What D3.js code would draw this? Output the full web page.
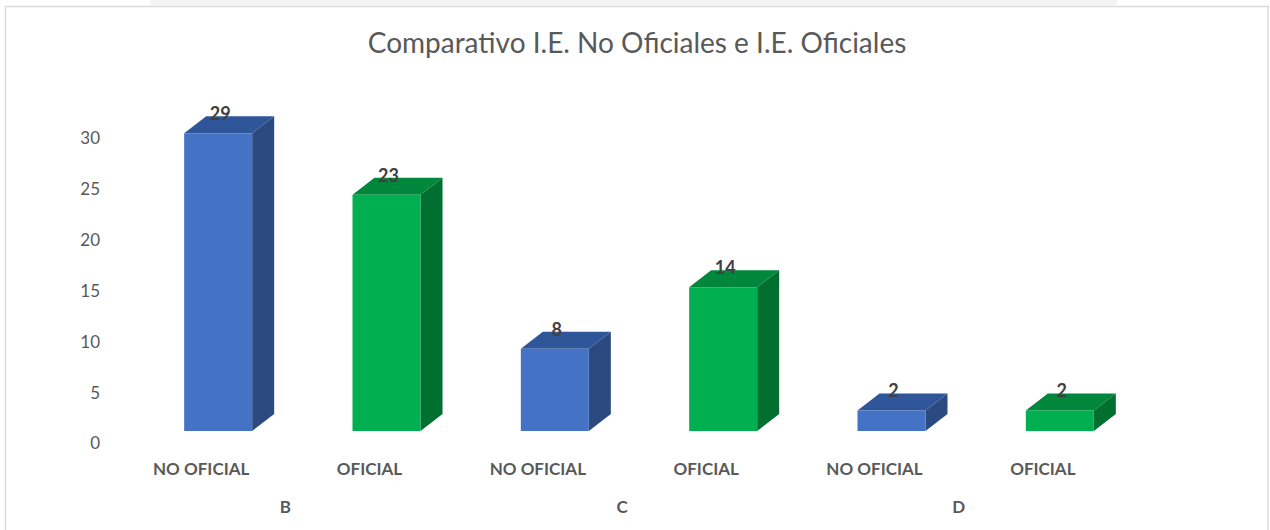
<!DOCTYPE html>
<html><head><meta charset="utf-8">
<script src="https://cdn.jsdelivr.net/npm/d3@7"></script>
<style>body{margin:0;background:#fff;overflow:hidden}svg{display:block}</style>
</head><body>
<svg id="c" width="1270" height="530"></svg>
<script>
const title = "Comparativo I.E. No Oficiales e I.E. Oficiales";
const groups = ["B", "C", "D"];
const types = ["NO OFICIAL", "OFICIAL"];
const valuesNoOficial = [29, 8, 2];
const valuesOficial = [23, 14, 2];
const yTicks = [0, 5, 10, 15, 20, 25, 30];

const rows = [];
groups.forEach((g, i) => {
  rows.push({group: g, type: types[0], value: valuesNoOficial[i], key: g + "|" + types[0]});
  rows.push({group: g, type: types[1], value: valuesOficial[i], key: g + "|" + types[1]});
});

const svg = d3.select("#c");
const font = "Lato, 'Open Sans', sans-serif";

// page strip at top
svg.append("rect").attr("x", 150).attr("y", 0).attr("width", 967).attr("height", 5).attr("fill", "#f3f3f3");
// chart border
svg.append("rect").attr("x", 5.5).attr("y", 6.5).attr("width", 1262.5).attr("height", 540)
  .attr("fill", "#fff").attr("stroke", "#d9d9d9").attr("stroke-width", 1.5);

svg.append("text").attr("id", "title").attr("x", 637).attr("y", 53).attr("text-anchor", "middle")
  .attr("font-family", font).attr("font-size", 28).attr("fill", "#595959").text(title);

const x = d3.scaleBand().domain(rows.map(d => d.key)).range([117, 1127]).paddingInner(0).paddingOuter(0);
const yAxis = d3.scaleLinear().domain([0, 30]).range([443, 138]);
const yBar = d3.scaleLinear().domain([0, 30]).range([431, 123]);

const barW = 68, dx = 22, dy = 17, shift = -17;

// y axis labels
const ax = svg.append("g").attr("transform", "translate(100,0)")
  .call(d3.axisLeft(yAxis).tickValues(yTicks).tickSize(0).tickPadding(0));
ax.select(".domain").remove();
ax.selectAll("text").attr("font-family", font).attr("font-size", 17).attr("fill", "#595959").attr("dy", "0.35em");

const colors = {
  "NO OFICIAL": {front: "#4472C4", top: "#30569a", side: "#2a4a80"},
  "OFICIAL": {front: "#00B050", top: "#00873b", side: "#006f2f"}
};

const bars = svg.append("g").selectAll("g").data(rows).join("g");
bars.each(function(d) {
  const g = d3.select(this);
  const x0 = x(d.key) + x.bandwidth() / 2 + shift;
  const x1 = x0 + barW;
  const y0 = yBar(0), y1 = yBar(d.value);
  const c = colors[d.type];
  g.append("path").attr("d", `M${x1},${y1}L${x1+dx},${y1-dy}L${x1+dx},${y0-dy}L${x1},${y0}Z`).attr("fill", c.side);
  g.append("path").attr("d", `M${x0},${y1}L${x0+dx},${y1-dy}L${x1+dx},${y1-dy}L${x1},${y1}Z`).attr("fill", c.top);
  g.append("rect").attr("x", x0).attr("y", y1).attr("width", barW).attr("height", y0 - y1).attr("fill", c.front);
  g.append("text").attr("x", x0 + barW / 2 + 2).attr("y", y1 - dy + 4)
    .attr("text-anchor", "middle").attr("font-family", font).attr("font-weight", "bold")
    .attr("font-size", 18).attr("fill", "#404040").text(d.value);
});

// category labels
svg.append("g").selectAll("text").data(rows).join("text")
  .attr("x", d => x(d.key) + x.bandwidth() / 2).attr("y", 475)
  .attr("text-anchor", "middle").attr("font-family", font).attr("font-weight", "bold")
  .attr("font-size", 17).attr("fill", "#595959").text(d => d.type);

svg.append("g").selectAll("text").data(groups).join("text")
  .attr("x", g => (x(g + "|" + types[0]) + x(g + "|" + types[1]) + x.bandwidth()) / 2).attr("y", 513)
  .attr("text-anchor", "middle").attr("font-family", font).attr("font-weight", "bold")
  .attr("font-size", 17).attr("fill", "#595959").text(g => g);
</script>
</body></html>
